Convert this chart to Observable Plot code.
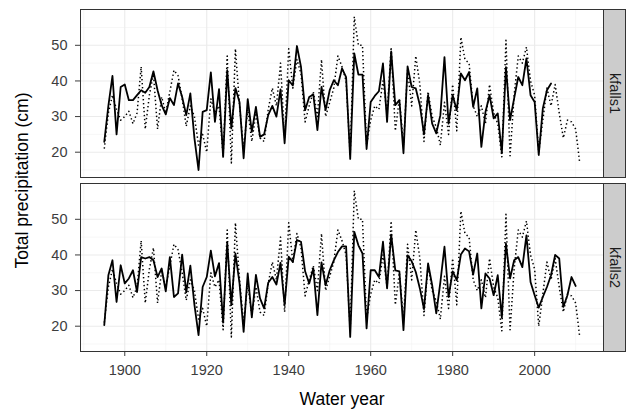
<!DOCTYPE html>
<html>
<head>
<meta charset="utf-8">
<script src="https://cdn.jsdelivr.net/npm/d3@7"></script>
<script src="https://cdn.jsdelivr.net/npm/@observablehq/plot@0.6"></script>
<style>
  html, body { margin: 0; padding: 0; background: #fff; }
  #chart { width: 626px; height: 412px; }
</style>
</head>
<body>
<div id="chart"></div>
<script>
// ---- data ----
const panels = ["kfalls1", "kfalls2"];
const startYear = 1895;

// observed (dotted), 1895-2011, same in both panels
const observed = [
  21, 31, 36, 32, 29, 30, 31.5, 28, 31, 44,        // 1895-1904
  26.5, 36, 42, 26.5, 35.5, 31, 37, 43, 41.5, 35,   // 1905-1914
  27.3, 33, 30, 22, 25, 20, 35, 31, 33, 19,         // 1915-1924
  47, 17, 49, 33, 21, 32, 23, 31, 24, 23,           // 1925-1934
  32, 38, 33, 45, 24, 49, 38, 46, 42, 28.5,         // 1935-1944
  33, 37, 30, 46, 30, 34, 38, 47, 44, 40,           // 1945-1954
  19, 58, 50, 50, 22, 29, 33, 32, 40, 31,           // 1955-1964
  49.5, 26, 35, 22, 43, 33, 47, 39, 23, 37,         // 1965-1974
  30, 27, 22, 34, 25, 39, 26, 52.3, 46, 45,         // 1975-1984
  33, 30, 33, 28, 39, 31, 28, 18.7, 51.4, 19,       // 1985-1994
  36, 47, 45, 49.5, 40, 36, 20, 29, 38, 33,         // 1995-2004
  39, 31, 24, 29, 28.5, 26.5, 17                    // 2005-2011
];

// simulated kfalls1 (solid), 1895-2004
const sim1 = [
  22.9, 33, 41.4, 25, 38.3, 39, 34.6, 34.6, 36, 37.4,        // 1895-1904
  36.7, 38.3, 42.7, 37.4, 33.2, 30.6, 35.2, 33.2, 39.3, 35.5, // 1905-1914
  30.4, 36.5, 23.9, 15, 31.3, 31.8, 42.4, 28.5, 37.7, 18.7,   // 1915-1924
  43, 26.7, 38, 34, 18.3, 34.9, 25.7, 32.7, 24.3, 25,         // 1925-1934
  30.4, 33, 30, 37.6, 22.5, 40.2, 38.7, 49.8, 43.9, 31.8,     // 1935-1944
  35.5, 36.2, 26.2, 38.3, 31.8, 37.4, 40.2, 38.8, 43.5, 41.1, // 1945-1954
  18.1, 47.7, 41.8, 41.8, 20.9, 34.1, 35.8, 37.1, 44.9, 28.5, // 1955-1964
  48.3, 33.2, 34.6, 19.7, 44.1, 38.3, 37.9, 33.2, 25, 36,     // 1965-1974
  28, 25.3, 30.4, 46.7, 28, 36, 31.8, 42.1, 40.2, 42.5,       // 1975-1984
  32.7, 37.9, 21.5, 31.3, 36, 29.5, 30.9, 19.7, 43.9, 29,     // 1985-1994
  35.1, 41.1, 38.8, 46.3, 36, 34.1, 19.2, 32.3, 37.4, 39.3    // 1995-2004
];

// simulated kfalls2 (solid), 1895-2010
const sim2 = [
  20.3, 34.3, 38.5, 26.8, 37.1, 32, 33.4, 35.7, 29.6, 39.4,   // 1895-1904
  39, 39.4, 38.5, 33.8, 36.2, 29.8, 39.4, 28.2, 29.2, 40.1,   // 1905-1914
  29.5, 37, 26, 17.5, 31, 33.8, 41.2, 34, 37.7, 21,           // 1915-1924
  43.5, 25.9, 40.4, 32, 18.4, 34.8, 22.5, 34.4, 27.8, 25,     // 1925-1934
  32.2, 33.8, 31.7, 37.8, 25.9, 39.5, 38, 44.2, 43.7, 35.4,   // 1935-1944
  32, 36.2, 23.1, 37.9, 31.5, 35.7, 38.5, 40.8, 42.4, 42.4,   // 1945-1954
  17, 46.5, 42.7, 40.4, 19.4, 35.7, 35.7, 33.8, 43.7, 30.6,   // 1955-1964
  45.7, 35.7, 35.4, 18.9, 39.9, 38.2, 35.2, 30.6, 24.8, 37.6, // 1965-1974
  31.5, 23.6, 32.4, 42.3, 28.2, 35.4, 32.9, 40.1, 41.8, 41,   // 1975-1984
  34.5, 40.4, 25, 34.8, 33.4, 28.7, 34.3, 22.4, 43.2, 33.4,   // 1985-1994
  38.5, 39.4, 36.6, 45.5, 32.4, 28.7, 25.2, 28.2, 31, 34.3,   // 1995-2004
  40, 39, 25.4, 28.7, 33.8, 31.3                              // 2005-2010
];

const xMajor = [1900, 1920, 1940, 1960, 1980, 2000];
const xMinor = [1890, 1910, 1930, 1950, 1970, 1990, 2010];
const yMajor = [20, 30, 40, 50];
const yMinor = [15, 25, 35, 45, 55];

const xTitle = "Water year";
const yTitle = "Total precipitation (cm)";

// ---- build long table ----
const simByPanel = {kfalls1: sim1, kfalls2: sim2};
const table = [];
for (const p of panels) {
  observed.forEach((v, i) => {
    const s = simByPanel[p][i];
    table.push({panel: p, year: startYear + i, obs: v, sim: s === undefined ? NaN : s});
  });
}

const font = "'Liberation Sans', Arial, Helvetica, sans-serif";

const plot = Plot.plot({
  width: 626,
  height: 412,
  marginLeft: 80,
  marginRight: 23,
  marginTop: 9,
  marginBottom: 61,
  style: {fontFamily: font, fontSize: "14.5px", color: "#3d3d3d", background: "#ffffff", overflow: "visible"},
  facet: {data: table, y: "panel"},
  fy: {domain: panels, paddingInner: 0.035, paddingOuter: 0, axis: null, label: null},
  x: {domain: [1889.2, 2016.8], ticks: xMajor, tickFormat: "d", tickSize: 5, tickPadding: 8, label: null},
  y: {domain: [12.9, 60.05], ticks: yMajor, tickSize: 5, tickPadding: 8, label: null},
  marks: [
    Plot.ruleX(xMinor, {stroke: "#f2f2f2", strokeWidth: 0.6}),
    Plot.ruleY(yMinor, {stroke: "#f2f2f2", strokeWidth: 0.6}),
    Plot.ruleX(xMajor, {stroke: "#ebebeb", strokeWidth: 1.1}),
    Plot.ruleY(yMajor, {stroke: "#ebebeb", strokeWidth: 1.1}),
    Plot.line(table, {x: "year", y: "obs", stroke: "#000", strokeWidth: 1.5,
      strokeDasharray: "1.4,2.6", strokeLinecap: "butt", curve: "linear"}),
    Plot.line(table, {x: "year", y: "sim", stroke: "#000", strokeWidth: 1.8, curve: "linear"}),
    Plot.frame({stroke: "#333333", strokeWidth: 1})
  ]
});

const host = document.getElementById("chart");
host.appendChild(plot);
const svg = plot.tagName.toLowerCase() === "svg" ? plot : plot.querySelector("svg");
const sel = d3.select(svg);
const sb = svg.getBoundingClientRect();

// facet frames (panel boxes): collect every rect drawn by the frame mark
let frameEls = Array.from(svg.querySelectorAll('[aria-label="frame"]'));
let rects = [];
frameEls.forEach(el => {
  if (el.tagName.toLowerCase() === "rect") rects.push(el);
  else rects.push(...el.querySelectorAll("rect"));
});
const frames = rects
  .map(el => el.getBoundingClientRect())
  .filter(r => r.width > 0 && r.height > 0)
  .sort((a, b) => a.top - b.top);

const W = +svg.getAttribute("width") || 626;
frames.forEach((r, i) => {
  const x0 = r.right - sb.left;
  const y0 = r.top - sb.top;
  sel.append("rect")
    .attr("x", x0).attr("y", y0)
    .attr("width", W - x0 - 0.5).attr("height", r.height)
    .attr("fill", "#cccccc").attr("stroke", "#333333").attr("stroke-width", 1);
  sel.append("text")
    .attr("transform", `translate(${(x0 + W) / 2},${y0 + r.height / 2}) rotate(90)`)
    .attr("text-anchor", "middle").attr("dominant-baseline", "central")
    .attr("font-family", font).attr("font-size", 14.5).attr("fill", "#1a1a1a")
    .text(panels[i]);
});

// axis titles
if (frames.length) {
  const left = frames[0].left - sb.left, right = frames[0].right - sb.left;
  const top = frames[0].top - sb.top, bottom = frames[frames.length - 1].bottom - sb.top;
  sel.append("text")
    .attr("x", (left + right) / 2).attr("y", 405)
    .attr("text-anchor", "middle")
    .attr("font-family", font).attr("font-size", 17.5).attr("fill", "#000")
    .text(xTitle);
  sel.append("text")
    .attr("transform", `translate(${28},${(top + bottom) / 2}) rotate(-90)`)
    .attr("text-anchor", "middle")
    .attr("font-family", font).attr("font-size", 17.5).attr("fill", "#000")
    .text(yTitle);
}
</script>
</body>
</html>
